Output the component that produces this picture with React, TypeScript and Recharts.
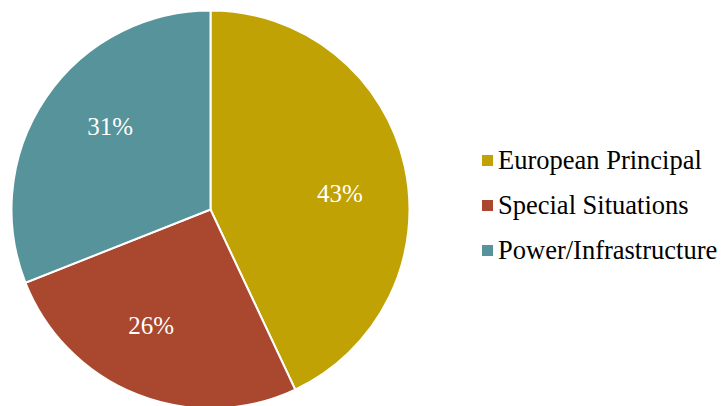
import { PieChart, Pie, Cell, Legend } from "recharts";

const categories = ["European Principal", "Special Situations", "Power/Infrastructure"];
const shares = [43, 26, 31];
const colors = ["#C0A204", "#A9482E", "#56939A"];

const data = categories.map((name, i) => ({ name, value: shares[i] }));

const FONT = "'Liberation Serif', 'Times New Roman', 'DejaVu Serif', serif";
const RADIAN = Math.PI / 180;

// labels sit a little clockwise of the slice middle, like the original
function renderLabel(props: any) {
  const { cx, cy, midAngle, outerRadius, value } = props;
  const r = outerRadius * 0.655;
  const a = (midAngle - 5.5) * RADIAN;
  const x = cx + r * Math.cos(-a);
  const y = cy + r * Math.sin(-a);
  return (
    <text
      x={x}
      y={y}
      fill="#fff"
      textAnchor="middle"
      dominantBaseline="central"
      style={{ fontFamily: FONT, fontSize: 25 }}
    >
      {`${value}%`}
    </text>
  );
}

function LegendBox({ payload }: any) {
  const items = [...(payload || [])].sort(
    (a: any, b: any) => categories.indexOf(a.value) - categories.indexOf(b.value)
  );
  return (
    <div style={{ fontFamily: FONT, fontSize: 26.5, color: "#000" }}>
      {items.map((p: any) => (
        <div key={p.value} style={{ display: "flex", alignItems: "center", height: 45.25 }}>
          <span style={{ width: 11, height: 11, background: p.color, marginRight: 5, display: "inline-block" }} />
          <span>{p.value}</span>
        </div>
      ))}
    </div>
  );
}

export default function App() {
  return (
    <div style={{ position: "absolute", left: 0, top: 0, background: "#fff" }}>
      <PieChart width={721} height={406} margin={{ top: 0, right: 0, bottom: 0, left: 0 }}>
        <Pie
          data={data}
          dataKey="value"
          nameKey="name"
          cx={210.5}
          cy={209.5}
          outerRadius={199}
          startAngle={90}
          endAngle={-270}
          stroke="#fff"
          strokeWidth={2}
          label={renderLabel}
          labelLine={false}
          isAnimationActive={false}
        >
          {data.map((d, i) => (
            <Cell key={d.name} fill={colors[i]} />
          ))}
        </Pie>
        <Legend
          content={<LegendBox />}
          wrapperStyle={{ left: 482, top: 137.5, width: 240 }}
        />
      </PieChart>
    </div>
  );
}
